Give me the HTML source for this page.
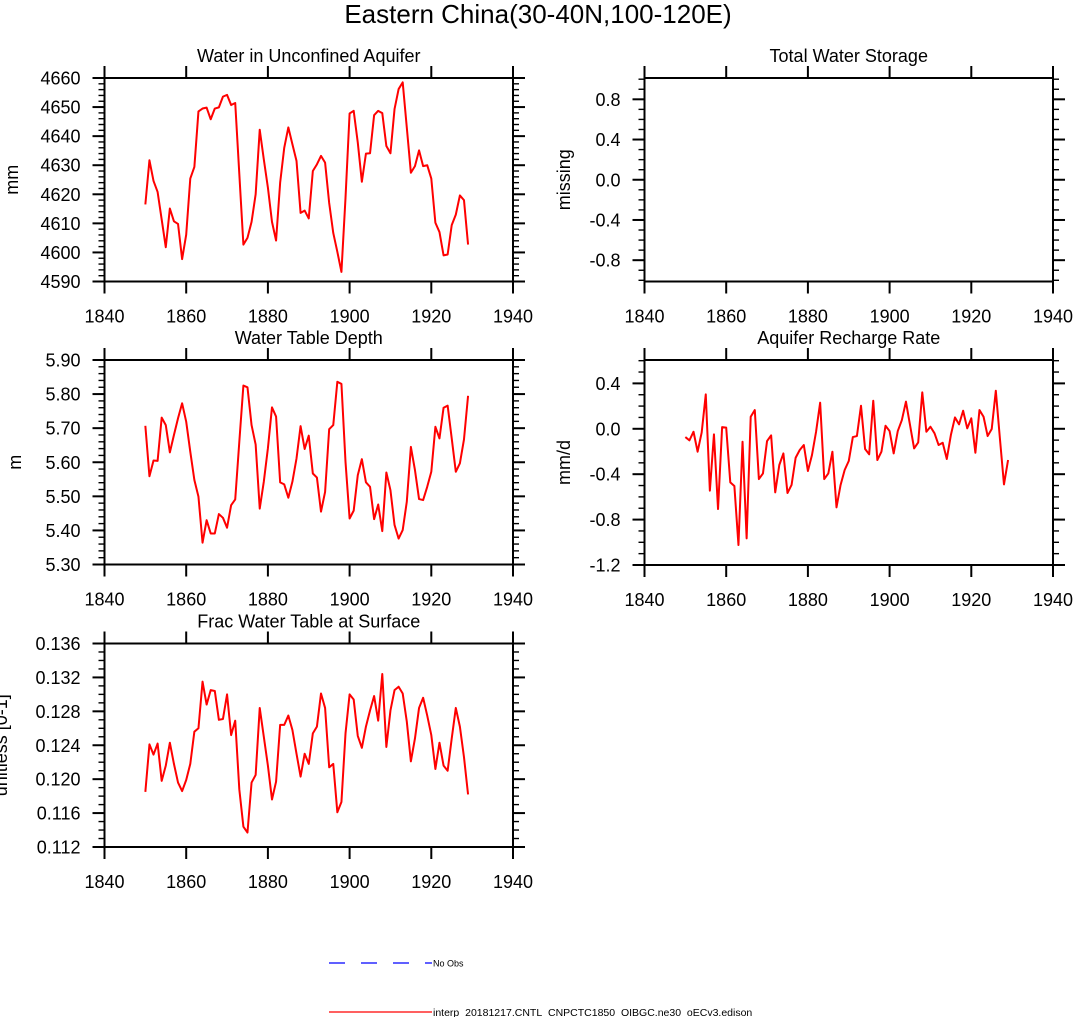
<!DOCTYPE html>
<html><head><meta charset="utf-8"><style>
html,body{margin:0;padding:0;background:#fff;}
svg{display:block;font-family:"Liberation Sans",Arial,sans-serif;}
</style></head><body>
<svg id="c" width="1075" height="1017" viewBox="0 0 1075 1017">
<text x="538" y="23" font-size="26" text-anchor="middle">Eastern China(30-40N,100-120E)</text>
<g>
<line x1="329" y1="963" x2="432" y2="963" stroke="#0000ff" stroke-width="1.2" stroke-dasharray="16,16"/>
<text x="433" y="966.5" font-size="9">No Obs</text>
<line x1="329" y1="1012" x2="432" y2="1012" stroke="#ff0000" stroke-width="1.2"/>
<text x="433" y="1016" font-size="10.5">interp_20181217.CNTL_CNPCTC1850_OIBGC.ne30_oECv3.edison</text>
</g>
</svg>
<script>
const years = []; for (let y = 1850; y <= 1929; y++) years.push(y);
const xTicks = [1840, 1860, 1880, 1900, 1920, 1940];
const unconfined = [4616.5,4631.7,4624.6,4620.8,4611.3,4601.8,4615.1,4610.7,4609.8,4597.7,4606.1,4625.4,4629.4,4648.5,4649.5,4649.8,4645.8,4649.5,4649.9,4653.6,4654.2,4650.7,4651.4,4627,4602.7,4605,4610.5,4620,4642.2,4632,4622.3,4610.5,4604.1,4624,4636,4643,4637.2,4631.5,4613.6,4614.4,4611.7,4628,4630.3,4633.2,4630.9,4617,4606.7,4600.2,4593.3,4618.8,4647.8,4648.7,4637.8,4624.3,4634,4634.1,4647.2,4648.7,4647.9,4636.6,4634.1,4649.3,4656.2,4658.5,4643,4627.4,4629.7,4635.1,4629.7,4630,4625.4,4610.2,4607,4599,4599.3,4609.4,4613,4619.6,4618,4602.7];
const wtd = [5.707,5.559,5.605,5.604,5.731,5.709,5.629,5.68,5.729,5.773,5.719,5.631,5.548,5.499,5.364,5.43,5.391,5.391,5.448,5.437,5.408,5.474,5.491,5.66,5.825,5.82,5.709,5.652,5.464,5.543,5.641,5.761,5.734,5.541,5.535,5.496,5.543,5.611,5.706,5.639,5.678,5.567,5.555,5.455,5.513,5.697,5.709,5.836,5.83,5.601,5.435,5.458,5.562,5.609,5.541,5.528,5.433,5.476,5.398,5.57,5.518,5.416,5.376,5.401,5.484,5.645,5.577,5.492,5.489,5.528,5.572,5.704,5.67,5.76,5.766,5.67,5.572,5.597,5.667,5.795];
const recharge = [-0.073,-0.102,-0.026,-0.202,-0.032,0.303,-0.545,-0.049,-0.707,0.015,0.01,-0.472,-0.504,-1.024,-0.114,-0.965,0.106,0.165,-0.443,-0.393,-0.108,-0.058,-0.56,-0.319,-0.217,-0.566,-0.495,-0.255,-0.187,-0.143,-0.372,-0.231,-0.026,0.23,-0.443,-0.393,-0.202,-0.692,-0.495,-0.363,-0.284,-0.073,-0.064,0.203,-0.178,-0.225,0.247,-0.275,-0.202,0.027,-0.02,-0.217,-0.02,0.077,0.239,0.033,-0.173,-0.12,0.321,-0.026,0.018,-0.04,-0.143,-0.123,-0.266,-0.055,0.1,0.039,0.159,0.004,0.092,-0.211,0.165,0.106,-0.064,-0.002,0.335,-0.084,-0.49,-0.275];
const fracwt = [0.1185,0.1241,0.1229,0.1242,0.1198,0.1216,0.1243,0.1218,0.1196,0.1186,0.1199,0.1218,0.1256,0.126,0.1315,0.1288,0.1305,0.1304,0.127,0.1271,0.13,0.1252,0.1269,0.1188,0.1144,0.1137,0.1196,0.1205,0.1284,0.125,0.1216,0.1176,0.1197,0.1264,0.1264,0.1275,0.1258,0.123,0.1203,0.123,0.1218,0.1254,0.1262,0.1301,0.1284,0.1214,0.1218,0.1161,0.1173,0.1254,0.13,0.1294,0.1251,0.1237,0.1262,0.1281,0.1298,0.1269,0.1324,0.1238,0.1281,0.1305,0.1309,0.1301,0.1268,0.1221,0.1248,0.1284,0.1296,0.1275,0.1252,0.1212,0.1243,0.1216,0.121,0.1248,0.1284,0.1262,0.1226,0.1182];
const tick1 = ["4590","4600","4610","4620","4630","4640","4650","4660"];
const tick2 = ["5.30","5.40","5.50","5.60","5.70","5.80","5.90"];
const tick3 = ["-0.8","-0.4","0.0","0.4","0.8"];
const tick4 = ["-1.2","-0.8","-0.4","0.0","0.4"];
const tick5 = ["0.112","0.116","0.120","0.124","0.128","0.132","0.136"];

const NS = "http://www.w3.org/2000/svg";
const svg = document.getElementById("c");
function mk(tag, attrs, parent) {
  const e = document.createElementNS(NS, tag);
  for (const k in attrs) e.setAttribute(k, attrs[k]);
  (parent || svg).appendChild(e);
  return e;
}
function panel(p) {
  const g = mk("g", {});
  
  
  const xs = v => p.x0 + (v - 1840) / 100 * (p.x1 - p.x0);
  const ys = v => p.yb - (v - p.vmin) / (p.vmax - p.vmin) * (p.yb - p.yt);
  const t = mk("text", {x: (p.x0 + p.x1) / 2, y: p.yt - 16, "font-size": 18, "text-anchor": "middle"}, g);
  t.textContent = p.title;
  
  
  const yl = mk("text", {x: 0, y: 0, "font-size": 18, "text-anchor": "middle", transform: `translate(${p.ylx},${(p.yt + p.yb) / 2}) rotate(-90)`}, g);
  yl.textContent = p.ylabel;
  
  
  const ax = mk("g", {stroke: "#000", "stroke-width": 2}, g);
  
  
  mk("rect", {x: p.x0, y: p.yt, width: p.x1 - p.x0, height: p.yb - p.yt, fill: "none"}, ax);
  xTicks.forEach(v => {
    const x = xs(v);
    mk("line", {x1: x, y1: p.yb, x2: x, y2: p.yb + 12}, ax);
    mk("line", {x1: x, y1: p.yt, x2: x, y2: p.yt - 12}, ax);
    const tl = mk("text", {x: x, y: p.yb + 41, "font-size": 18, "text-anchor": "middle", stroke: "none"}, g);
    tl.textContent = String(v);
    
    
  });
  for (let v = p.minStart; v <= p.vmax + 1e-9; v += p.minor) {
    const y = ys(v);
    if (y < p.yt - 0.5 || y > p.yb + 0.5) continue;
    mk("line", {x1: p.x0, y1: y, x2: p.x0 - 6, y2: y, "stroke-width": 1.4}, ax);
    mk("line", {x1: p.x1, y1: y, x2: p.x1 + 6, y2: y, "stroke-width": 1.4}, ax);
  }
  p.ticks.forEach(lbl => {
    const y = ys(parseFloat(lbl));
    mk("line", {x1: p.x0, y1: y, x2: p.x0 - 12, y2: y}, ax);
    mk("line", {x1: p.x1, y1: y, x2: p.x1 + 12, y2: y}, ax);
    const tl = mk("text", {x: p.x0 - 24, y: y + 6.5, "font-size": 18, "text-anchor": "end"}, g);
    tl.textContent = lbl;
    
    
  });
  if (p.data) {
    const d = p.data.map((v, i) => (i ? "L" : "M") + xs(years[i]).toFixed(2) + "," + ys(v).toFixed(2)).join("");
    const ln = mk("path", {d: d, fill: "none", stroke: "#ff0000", "stroke-width": 2, "stroke-linejoin": "round"}, g);
    
    
  }
}
panel({name: "panel-unconfined-aquifer", title: "Water in Unconfined Aquifer", ylabel: "mm", ylx: 18, x0: 104.5, x1: 513, yt: 78, yb: 281.5, vmin: 4590, vmax: 4660, minor: 2, minStart: 4590, ticks: tick1, data: unconfined});
panel({name: "panel-total-water-storage", title: "Total Water Storage", ylabel: "missing", ylx: 570, x0: 644.5, x1: 1053, yt: 78, yb: 281.5, vmin: -1.012, vmax: 1.012, minor: 0.1, minStart: -1.0, ticks: tick3, data: null});
panel({name: "panel-water-table-depth", title: "Water Table Depth", ylabel: "m", ylx: 21, x0: 104.5, x1: 513, yt: 360, yb: 564.5, vmin: 5.3, vmax: 5.9, minor: 0.02, minStart: 5.3, ticks: tick2, data: wtd});
panel({name: "panel-recharge-rate", title: "Aquifer Recharge Rate", ylabel: "mm/d", ylx: 570, x0: 644.5, x1: 1053, yt: 360, yb: 565, vmin: -1.2, vmax: 0.606, minor: 0.1, minStart: -1.2, ticks: tick4, data: recharge});
panel({name: "panel-frac-water-table", title: "Frac Water Table at Surface", ylabel: "unitless [0-1]", ylx: 7, x0: 104.5, x1: 513, yt: 643.5, yb: 847, vmin: 0.112, vmax: 0.136, minor: 0.001, minStart: 0.112, ticks: tick5, data: fracwt});
</script>
</body></html>
